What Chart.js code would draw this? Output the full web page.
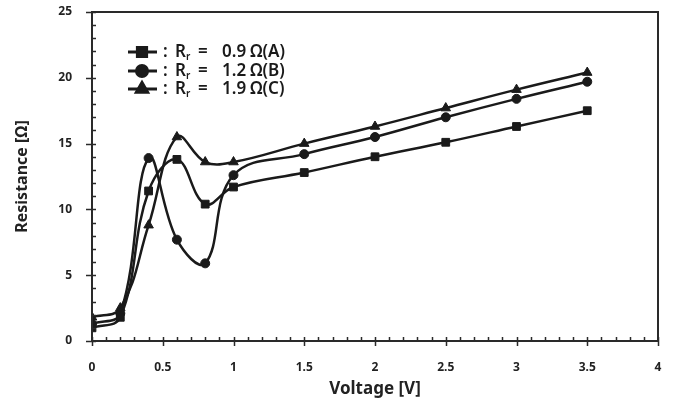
<!DOCTYPE html>
<html>
<head>
<meta charset="utf-8">
<script src="https://cdn.jsdelivr.net/npm/chart.js@4/dist/chart.umd.min.js"></script>
<style>
  html, body { margin: 0; padding: 0; background: #fff; }
  #wrap { width: 674px; height: 412px; position: relative; }
</style>
</head>
<body>
<div id="wrap"><canvas id="resistanceChart" width="674" height="412"></canvas></div>
<script>
// Resistance vs voltage, three Rr values
const voltages = [0, 0.2, 0.4, 0.6, 0.8, 1, 1.5, 2, 2.5, 3, 3.5];
const resA = [1.0, 1.8, 11.4, 13.8, 10.4, 11.7, 12.8, 14.0, 15.1, 16.3, 17.5];
const resB = [1.3, 2.1, 13.9, 7.7, 5.9, 12.6, 14.2, 15.5, 17.0, 18.4, 19.7];
const resC = [1.8, 2.5, 8.8, 15.5, 13.6, 13.6, 15.0, 16.3, 17.7, 19.1, 20.4];
const rrValues = ['0.9', '1.2', '1.9'];
const rrTags = ['(A)', '(B)', '(C)'];
const markers = ['rect', 'circle', 'triangle'];
const markerRadius = [5.5, 4.5, 5.5];

const ink = '#1a1a1a';
const tickFont = { family: 'Noto Sans', size: 12, weight: 'bold' };

function makeSeries(values, i) {
    return {
        label: rrValues[i],
        data: voltages.map((v, k) => ({ x: v, y: values[k] })),
        borderColor: ink,
        backgroundColor: ink,
        borderWidth: 2.5,
        tension: 0.4,
        fill: false,
        pointStyle: markers[i],
        pointRadius: markerRadius[i],
        pointBorderWidth: 1
    };
}

// box around the plot + major/minor tick marks
function drawFrame(chart) {
    const ctx = chart.ctx;
    const xs = chart.scales.x;
    const ys = chart.scales.y;
    const left = xs.left, right = xs.right, top = ys.top, bottom = ys.bottom;
    ctx.save();
    ctx.strokeStyle = '#2a2a2a';
    ctx.lineWidth = 2;
    ctx.beginPath();
    ctx.moveTo(left, top);
    ctx.lineTo(right, top);
    ctx.lineTo(right, bottom);
    ctx.lineTo(left, bottom);
    ctx.closePath();
    ctx.stroke();
    ctx.lineWidth = 1.5;
    ctx.beginPath();
    for (let i = 0; i <= 40; i++) {
        const px = Math.round(xs.getPixelForValue(i / 10)) + 0.5;
        ctx.moveTo(px, bottom - 4);
        ctx.lineTo(px, i % 5 === 0 ? bottom + 5 : bottom);
    }
    for (let j = 0; j <= 25; j++) {
        const py = Math.round(ys.getPixelForValue(j)) + 0.5;
        ctx.moveTo(j % 5 === 0 ? left - 6 : left, py);
        ctx.lineTo(left + 4, py);
    }
    ctx.stroke();
    ctx.restore();
}

// legend like the original: line + marker, then ": Rr = value Ω(tag)"
function drawLegend(chart) {
    const ctx = chart.ctx;
    const rows = [52, 71, 89];
    ctx.save();
    rows.forEach((ry, i) => {
        ctx.strokeStyle = ink;
        ctx.fillStyle = ink;
        ctx.lineWidth = 3;
        ctx.beginPath();
        ctx.moveTo(128, ry);
        ctx.lineTo(157, ry);
        ctx.stroke();
        Chart.helpers.drawPoint(ctx, {
            pointStyle: markers[i],
            radius: markerRadius[i] + 1,
            borderWidth: 1
        }, 142, ry);

        ctx.fillStyle = ink;
        ctx.textBaseline = 'middle';
        ctx.textAlign = 'left';
        ctx.font = '600 17px "Noto Sans"';
        ctx.fillText(':', 163, ry);
        ctx.fillText('R', 175, ry);
        ctx.font = '600 10px "Noto Sans"';
        ctx.fillText('r', 186, ry + 5);
        ctx.font = '600 17px "Noto Sans"';
        ctx.fillText('=', 198, ry);
        ctx.fillText(rrValues[i], 222, ry);
        ctx.fillText('\u03A9' + rrTags[i], 250, ry);
    });
    ctx.restore();
}

const decorations = {
    id: 'decorations',
    afterDraw(chart) {
        drawFrame(chart);
        drawLegend(chart);
    }
};

const chart = new Chart(document.getElementById('resistanceChart'), {
    type: 'line',
    data: {
        datasets: [makeSeries(resA, 0), makeSeries(resB, 1), makeSeries(resC, 2)]
    },
    options: {
        responsive: false,
        animation: false,
        layout: {
            padding: { top: 12, right: 16, left: 0, bottom: 0 }
        },
        plugins: {
            legend: { display: false },
            tooltip: { enabled: false }
        },
        scales: {
            x: {
                type: 'linear',
                min: 0,
                max: 4,
                afterFit: function (scale) {
                    scale.height = 71;
                    scale.paddingLeft = 0;
                    scale.paddingRight = 0;
                },
                ticks: {
                    stepSize: 0.5,
                    padding: 11,
                    color: '#222',
                    font: tickFont,
                    callback: function (value) { return String(value); }
                },
                grid: { display: false },
                border: { display: false },
                title: {
                    display: true,
                    text: 'Voltage [V]',
                    color: '#222',
                    font: { family: 'Noto Sans', size: 17, weight: 'bold' },
                    padding: { top: 0, bottom: 13 }
                }
            },
            y: {
                min: 0,
                max: 25,
                afterFit: function (scale) {
                    scale.width = 92;
                    scale.paddingTop = 0;
                    scale.paddingBottom = 0;
                },
                ticks: {
                    stepSize: 5,
                    padding: 12,
                    color: '#222',
                    font: tickFont
                },
                grid: { display: false },
                border: { display: false },
                title: {
                    display: true,
                    text: 'Resistance [\u03A9]',
                    color: '#222',
                    font: { family: 'Noto Sans', size: 16, weight: 'bold' },
                    padding: { top: 13, bottom: 0 }
                }
            }
        }
    },
    plugins: [decorations]
});
</script>
</body>
</html>
